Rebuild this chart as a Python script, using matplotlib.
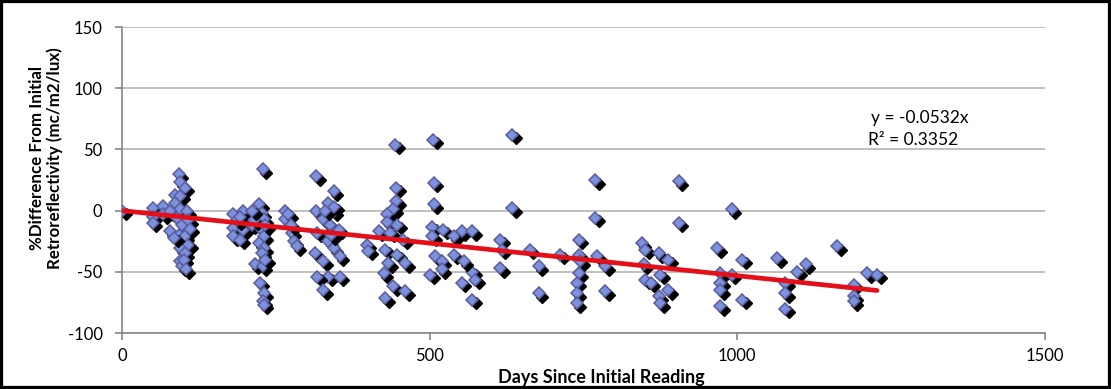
import matplotlib
matplotlib.use("Agg")
import matplotlib.pyplot as plt
from matplotlib.patches import Rectangle
from matplotlib.transforms import offset_copy
import numpy as np

plt.rcParams['font.family'] = ['Lato', 'DejaVu Sans']
plt.rcParams['axes.unicode_minus'] = False

# Days since initial reading and % difference from initial retroreflectivity
days = [
    0,
    50, 50, 50, 67, 67,
    92, 94, 102, 86, 95, 86, 94, 105, 78, 89, 97, 78, 92, 102, 108, 94, 94, 97, 102, 108, 110, 85, 100, 104,
    181, 197, 181, 197, 181, 192, 187, 192,
    229, 223, 227, 219, 230, 211, 227, 230, 222, 230, 227, 216, 229, 224, 230, 229, 230, 215, 233, 233, 212,
    265, 265, 276, 279, 270, 275, 284,
    316, 344, 335, 316, 344, 327, 338, 317, 352, 335, 344, 314, 354, 327, 335, 354, 317, 327, 340, 330, 345,
    444, 506, 446, 446, 441, 430, 430, 447, 417, 436, 457, 398, 400, 428, 447, 460, 433, 425, 441, 460, 428,
    507, 507, 504, 504, 522, 539, 552, 569, 509, 520, 539, 501, 520, 552, 569, 569, 555,
    634, 634, 769, 769, 574, 615, 617, 615, 663, 677, 677, 712, 742, 742, 745, 742, 739, 739, 739, 772, 785, 785,
    845, 850, 848, 850, 872, 872, 875,
    859, 888, 875, 888, 905, 905, 967, 972, 972, 972, 972, 991, 1008, 991, 1008, 1065, 1078, 1078, 1078, 1097,
    1111, 1162,
    1211, 1227, 1189, 1189, 1189,
]
pct_diff = [
    0,
    2, -5, -10, 3.5, -3,
    29.5, 23, 18.6, 13, 12, 6, 1, -0.5, -0.5, -6, -11.5, -17, -20, -21, -28, -30.6, -41.5, -45.6, -35, -8, -15,
    -22, -40, -48,
    -3, -0.5, -14, -15.6, -21, -24, -8, -5,
    33.6, 5, -2, -4.6, -7, -11.5, -15.6, -21, -26.5, -30.6, -34.7, -44, -45.6, -59, -67.5, -74, -77, -8, -12, -40, 0,
    -0.5, -7, -18, -25, -3, -12, -29,
    28, 16, 6, -0.5, -0.5, -7, -11.5, -18, -15.6, -25, -30.6, -34.7, -37.4, -41.5, -54, -54, -54, -65, -20, 0, 3,
    54, 58, 18.6, 7.6, 1, -3, -9, -11.5, -17, -18, -24, -28, -33, -32, -36, -43, -43, -51, -62, -66, -71.6,
    22.7, 5, -13, -21, -15.6, -21, -17, -17, -37.4, -41.5, -36, -52.5, -48, -59, -73, -50, -41.5,
    62, 2, 25, -6, -56.6, -24, -32, -47, -32, -45.6, -67.5, -36, -24, -36, -41.5, -51, -59, -67.5, -75.7, -37.4,
    -45.6, -66, -26.5, -32, -44, -56.6, -35, -70, -75.7,
    -59, -40, -52.5, -65, 24, -10, -30.6, -51, -59, -65, -78, 1, -40, -52.5, -73, -39, -59, -67.5, -80, -50,
    -44, -29,
    -51, -52.5, -60.6, -70, -74,
]

# trendline (forced through origin) from the chart
slope = -0.0532
r_squared = 0.3352

x_ticks = [0, 500, 1000, 1500]
y_ticks = [-100, -50, 0, 50, 100, 150]

fig = plt.figure(figsize=(11.11, 3.89), dpi=100)
ax = fig.add_axes([122 / 1111, 1 - 333 / 389, (1045 - 122) / 1111, (333 - 27) / 389])

# markers with drop shadow
shadow = offset_copy(ax.transData, fig=fig, x=3.5, y=-3.5, units='dots')
for i in range(len(days)):
    ax.plot(days[i], pct_diff[i], 'D', color='black', markersize=6.4, transform=shadow, zorder=3 + i * 0.001)
    ax.plot(days[i], pct_diff[i], 'D', markerfacecolor='#7b93dc', markeredgecolor='#5c5c9e',
            markeredgewidth=1.1, markersize=6.4, zorder=3 + i * 0.001 + 0.0005)

# trend line
xl = np.array([0, max(days)])
ax.plot(xl, slope * xl, color='#e3101a', linewidth=3.4, solid_capstyle='round', zorder=5)

ax.set_xlim(0, 1500)
ax.set_ylim(-100, 150)
ax.set_xticks(x_ticks)
ax.set_yticks(y_ticks)
ax.yaxis.grid(True, color='#b4b4b4', linewidth=1.2)
ax.set_axisbelow(True)
for s in ['top', 'right']:
    ax.spines[s].set_visible(False)
for s in ['left', 'bottom']:
    ax.spines[s].set_color('#868686')
    ax.spines[s].set_linewidth(1.2)
ax.tick_params(axis='both', colors='#868686', labelcolor='black', labelsize=12, length=5, width=1.2)
ax.tick_params(axis='y', pad=9)
ax.tick_params(axis='x', pad=6)

fig.text(601 / 1111, 1 - 377 / 389, 'Days Since Initial Reading', ha='center', va='center',
         fontsize=13, fontweight='bold')
fig.text(46 / 1111, 1 - 158 / 389, '%Difference From Initial\nRetroreflectivity (mc/m2/lux)',
         rotation=90, ha='center', va='center', fontsize=12.2, fontweight='bold', linespacing=1.15)

ax.text(1296, 76, 'y = -0.0532x', ha='center', va='center', fontsize=12.5)
ax.text(1285, 58, 'R² = 0.3352', ha='center', va='center', fontsize=12.5)

fig.patches.append(Rectangle((0, 0), 1, 1, transform=fig.transFigure, fill=False,
                             edgecolor='black', linewidth=4.5))

fig.savefig('out.png', dpi=100)
